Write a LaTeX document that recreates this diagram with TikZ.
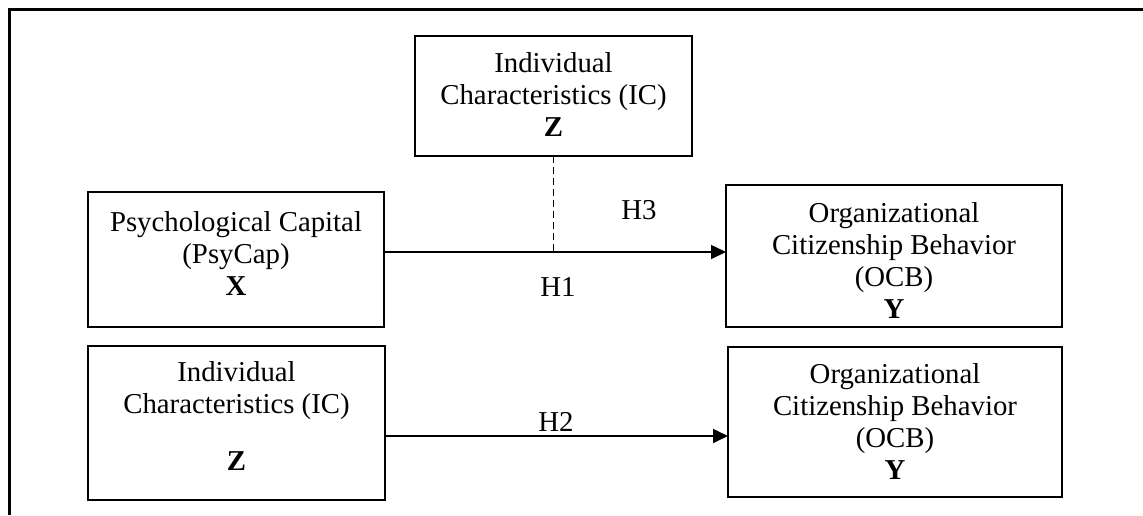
\documentclass[tikz,border=0pt]{standalone}
\usepackage{fontspec}
\setmainfont{Liberation Serif}
\usetikzlibrary{arrows.meta}
\tikzset{
  box/.style={draw, line width=1.1pt, inner sep=0pt, outer sep=0pt},
  txt/.style={align=center, inner sep=0pt, font=\fontsize{14.4}{16}\selectfont},
  lbl/.style={inner sep=0pt, font=\fontsize{14.4}{16}\selectfont},
  arr/.style={line width=0.8pt, -{Triangle[length=7.5pt,width=7pt]}},
  moder/.style={line width=0.65pt, dash pattern=on 3.5pt off 2pt},
  framel/.style={line width=1.5pt}
}
\begin{document}
\begin{tikzpicture}[x=0.5pt,y=-0.5pt]
\useasboundingbox (0,0) rectangle (1143,515);
\draw[framel] (9,515) -- (9,9) -- (1143,9);

\node[box, minimum width=138.5pt, minimum height=60pt] (zt) at (553.5,96) {};
\node[box, minimum width=148pt, minimum height=67.5pt] (x) at (236,259.5) {};
\node[box, minimum width=168pt, minimum height=71pt] (y1) at (894,256) {};
\node[box, minimum width=148.5pt, minimum height=77pt] (zb) at (236.5,423) {};
\node[box, minimum width=167pt, minimum height=75pt] (y2) at (895,422) {};

\node[txt] (ztt) at (553.5,95) {Individual\\Characteristics (IC)\\\textbf{Z}};
\node[txt] (xt) at (236,253.5) {Psychological Capital\\(PsyCap)\\\textbf{X}};
\node[txt] (y1t) at (894,260) {Organizational\\Citizenship Behavior\\(OCB)\\\textbf{Y}};
\node[txt] (zbt) at (236.5,391) {Individual\\Characteristics (IC)};
\node[txt] (zbz) at (236.5,461) {\textbf{Z}};
\node[txt] (y2t) at (895,421) {Organizational\\Citizenship Behavior\\(OCB)\\\textbf{Y}};

\coordinate (h1s) at ([yshift=3.75pt]x.east);
\draw[arr] (h1s) -- (h1s -| y1.west);
\draw[moder] (zt.south) -- (zt.south |- h1s);
\coordinate (h2s) at ([yshift=-6.5pt]zb.east);
\draw[arr] (h2s) -- (h2s -| y2.west);

\node[lbl] (h3) at (639,210) {H3};
\node[lbl] (h1) at (558,287) {H1};
\node[lbl] (h2) at (556,422) {H2};
\end{tikzpicture}
\end{document}
